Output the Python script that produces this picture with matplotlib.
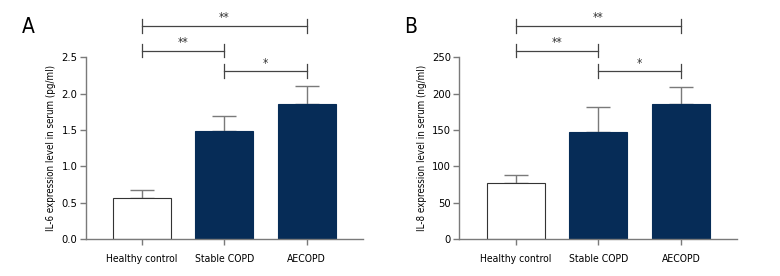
import numpy as np
import matplotlib.pyplot as plt

plt.rcParams['font.family'] = ['DejaVu Sans']
plt.rcParams['font.stretch'] = 'condensed'

groups = ['Healthy control', 'Stable COPD', 'AECOPD']
il6_mean = [0.56, 1.48, 1.86]
il6_err = [0.12, 0.21, 0.24]
il8_mean = [76.5, 147, 185.5]
il8_err = [11.5, 34, 23]

navy = '#062c57'
grey = '#7a7a7a'


def panel(ax, mean, err, ymax, ystep, ylabel):
    x = np.arange(len(groups))
    ax.bar(x, mean, width=0.7, color=['white', navy, navy],
           edgecolor=['#333333', navy, navy], linewidth=0.8, zorder=2)
    ax.errorbar(x, mean, yerr=[np.zeros(3), err], fmt='none', ecolor=grey,
                elinewidth=1, capsize=8.5, capthick=1, zorder=1)
    ax.set_xlim(-0.68, 2.68)
    ax.set_ylim(0, ymax)
    ticks = np.arange(0, ymax + ystep / 2, ystep)
    ax.set_yticks(ticks)
    if ystep < 1:
        ax.set_yticklabels(['%.1f' % v for v in ticks])
    ax.set_xticks(x)
    ax.set_xticklabels(groups, fontsize=7.5)
    ax.tick_params(axis='y', labelsize=8, color=grey, length=4, width=1, pad=2)
    ax.tick_params(axis='x', color=grey, length=4, width=1, pad=7)
    for s in ['top', 'right']:
        ax.spines[s].set_visible(False)
    for s in ['left', 'bottom']:
        ax.spines[s].set_color(grey)
        ax.spines[s].set_linewidth(1)
    ax.set_ylabel(ylabel, fontsize=7, labelpad=4)

    # significance brackets
    u = ymax / 2.5
    brackets = [(0, 2, 2.93, '**'), (0, 1, 2.59, '**'), (1, 2, 2.31, '*')]
    for a, b, h, txt in brackets:
        h = h * u
        d = 0.095 * u
        ax.plot([a, b], [h, h], color='#444444', lw=0.9, clip_on=False)
        ax.plot([a, a], [h - d, h + d], color='#444444', lw=0.9, clip_on=False)
        ax.plot([b, b], [h - d, h + d], color='#444444', lw=0.9, clip_on=False)
        ax.text((a + b) / 2, h + 0.02 * u, txt, ha='center', va='bottom',
                fontsize=8.5, color='#333333')


fig = plt.figure(figsize=(7.8, 2.76), dpi=100)
ax1 = fig.add_axes([0.110, 0.134, 0.355, 0.659])
ax2 = fig.add_axes([0.589, 0.134, 0.356, 0.659])

panel(ax1, il6_mean, il6_err, 2.5, 0.5, 'IL-6 expression level in serum (pg/ml)')
panel(ax2, il8_mean, il8_err, 250, 50, 'IL-8 expression level in serum (ng/ml)')

fig.text(0.036, 0.902, 'A', fontsize=15, ha='center', va='center')
fig.text(0.526, 0.902, 'B', fontsize=15, ha='center', va='center')

fig.savefig('out.png', dpi=100)
